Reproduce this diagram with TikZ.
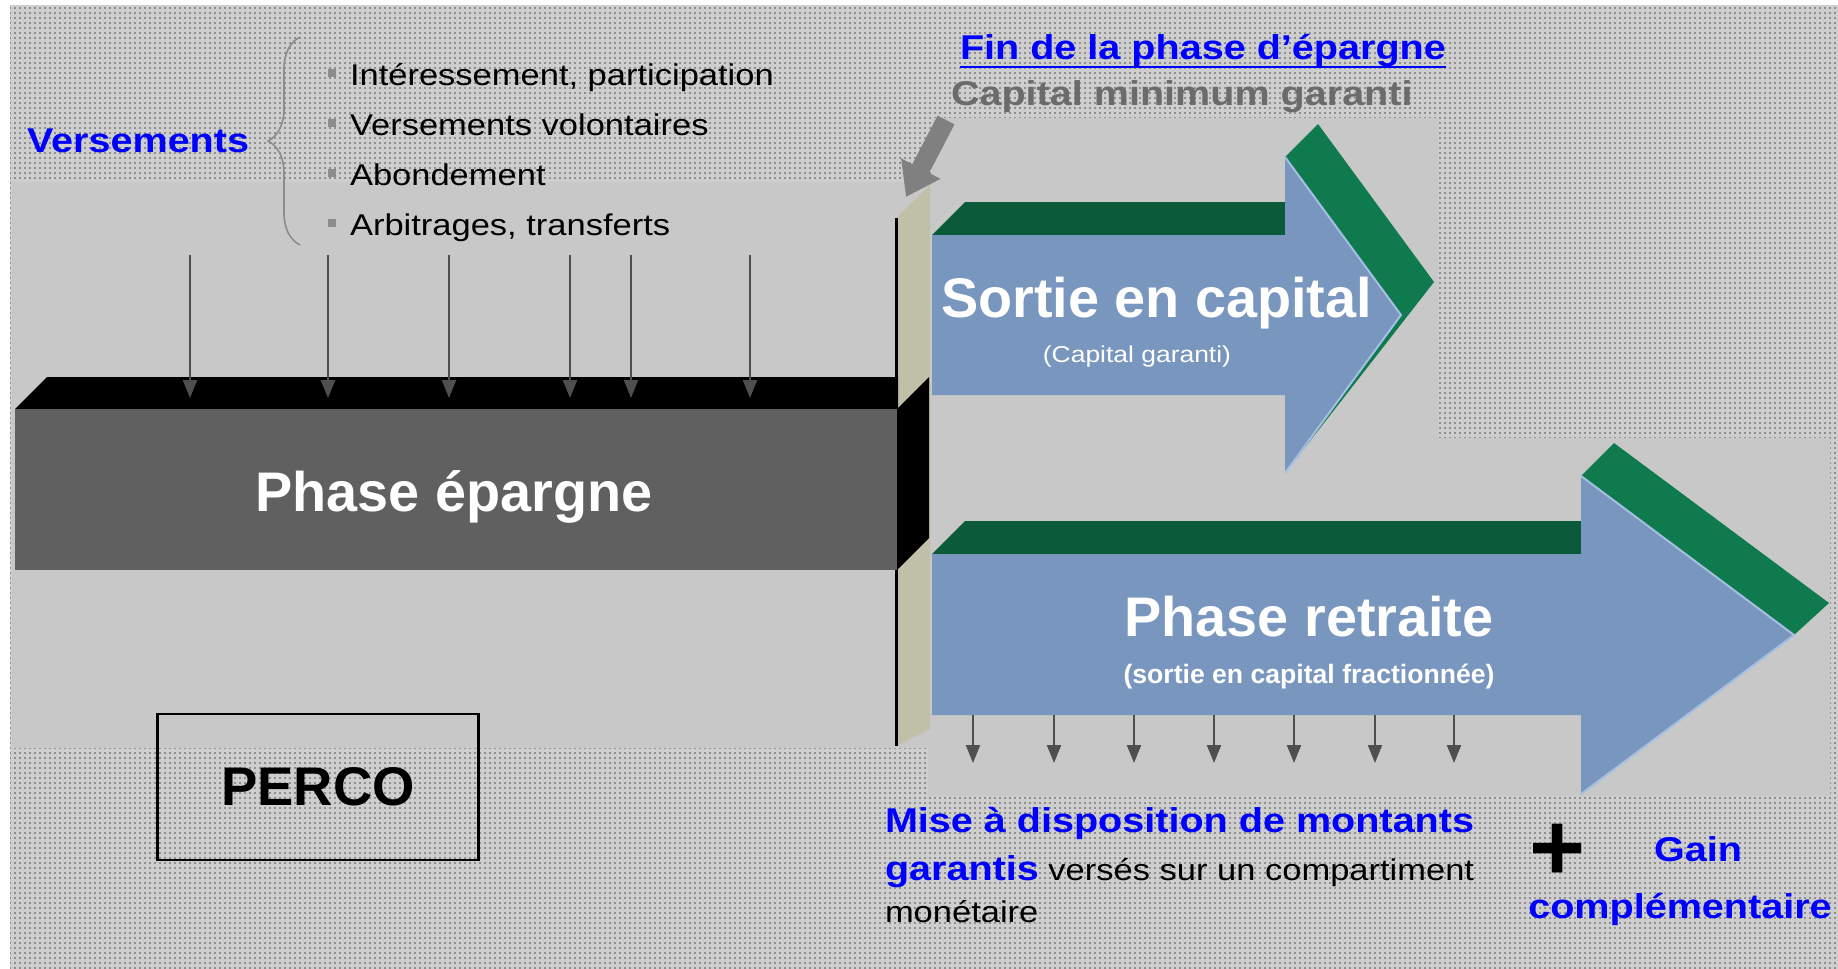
\documentclass[tikz,border=0pt]{standalone}
\usepackage{fontspec}
\setmainfont{Liberation Sans}
\newfontfamily\wide{Liberation Sans}[FakeStretch=1.15]
\usetikzlibrary{arrows.meta,decorations.pathreplacing,patterns}
\pgfdeclarepatternformonly{finedots}{\pgfpointorigin}{\pgfqpoint{2.4pt}{2.4pt}}{\pgfqpoint{2.4pt}{2.4pt}}{%
  \pgfpathrectangle{\pgfpointorigin}{\pgfqpoint{1pt}{1pt}}\pgfusepath{fill}}
\definecolor{texbg}{HTML}{CECECE}
\definecolor{texdot}{HTML}{8E8E8E}
\definecolor{plainbg}{HTML}{C8C8C8}
\definecolor{slab}{HTML}{C0BFA7}
\definecolor{barfront}{HTML}{606060}
\definecolor{arrblue}{HTML}{7896BE}
\definecolor{arrlight}{HTML}{A5BFE3}
\definecolor{topgreen}{HTML}{0B5A3A}
\definecolor{headgreen}{HTML}{0E7A4E}
\definecolor{pblue}{HTML}{0000FF}
\definecolor{capgray}{HTML}{6B6B6B}
\definecolor{arrgray}{HTML}{808080}
\definecolor{tickgray}{HTML}{4F4F4F}
\definecolor{bulletgray}{HTML}{8C8C8C}
\begin{document}
\begin{tikzpicture}[x=0.5pt,y=-0.5pt,
  lbl/.style={inner sep=0pt, outer sep=0pt},
  hd/.style={lbl, font=\wide\bfseries\fontsize{17.2}{20}\selectfont, text=pblue},
  sm/.style={lbl, font=\wide\fontsize{15}{18}\selectfont, text=black},
  big/.style={lbl, font=\bfseries\fontsize{27.9}{32}\selectfont, text=white},
  tick/.style={draw=tickgray, line width=1.1pt, -{Triangle[length=9pt,width=7pt]}},
  bullet/.style={fill=bulletgray},
]
\useasboundingbox (0,0) rectangle (1838,969);
\fill[white] (0,0) rectangle (1838,969);
\fill[texbg] (10,5) rectangle (1838,969);
\fill[pattern=finedots, pattern color=texdot] (10,5) rectangle (1838,969);
\fill[plainbg] (12,182) -- (932,182) -- (932,118) -- (1438,118) -- (1438,438)
  -- (1830,438) -- (1830,796) -- (928,796) -- (928,748) -- (12,748) -- cycle;

% slab
\fill[slab] (896,218) -- (930,185) -- (930,729) -- (896,746) -- cycle;
\draw[black, line width=1.5pt] (896,218) -- (896,746);

% savings bar
\fill[black] (15,409) -- (47,377) -- (898,377) -- (898,409) -- cycle;
\fill[barfront] (15,409) rectangle (897,570);
\fill[black] (897,409) -- (929,377) -- (929,538) -- (897,570) -- cycle;

% Sortie en capital arrow
\fill[topgreen] (932,235) -- (965,202) -- (1285,202) -- (1285,235) -- cycle;
\fill[headgreen] (1285,157) -- (1318,124) -- (1434,282) -- (1285,473) -- cycle;
\fill[arrblue] (932,235) -- (1285,235) -- (1285,157) -- (1401,315) -- (1285,473)
  -- (1285,395) -- (932,395) -- cycle;
\draw[arrlight, line width=1pt] (1285,157) -- (1401,315) -- (1285,473);

% Phase retraite arrow
\fill[topgreen] (932,554) -- (965,521) -- (1581,521) -- (1581,554) -- cycle;
\fill[headgreen] (1581,476) -- (1614,443) -- (1829,603) -- (1794,635) -- cycle;
\fill[arrblue] (932,554) -- (1581,554) -- (1581,476) -- (1794,635) -- (1581,794)
  -- (1581,715) -- (932,715) -- cycle;
\draw[arrlight, line width=1pt] (1581,476) -- (1794,635) -- (1581,794);

% grey pointer arrow
\coordinate (gs) at (946,120);
\coordinate (gt) at (906,197);
\draw[arrgray, line width=9.5pt, -{Triangle[length=16pt,width=21pt]}] (gs) -- (gt);

% incoming payments
\foreach \x [count=\i] in {190,328,449,570,631,750} {
  \coordinate (vs\i) at (\x,255);
  \coordinate (ve\i) at (\x,398);
  \draw[tick] (vs\i) -- (ve\i);
}
% outgoing payments
\foreach \x [count=\i] in {973,1054,1134,1214,1294,1375,1454} {
  \coordinate (rs\i) at (\x,715);
  \coordinate (re\i) at (\x,763);
  \draw[tick] (rs\i) -- (re\i);
}

% brace
\coordinate (brb) at (300,245);
\coordinate (brt) at (300,37);
\draw[bulletgray, line width=0.8pt, decorate, decoration={brace, amplitude=16pt}] (brb) -- (brt);

% texts
\node[hd, anchor=base west] (vers) at (27,152) {Versements};
\node[sm, anchor=base west] (b1) at (350,85) {Intéressement, participation};
\node[sm, anchor=base west] (b2) at (350,135) {Versements volontaires};
\node[sm, anchor=base west] (b3) at (350,185) {Abondement};
\node[sm, anchor=base west] (b4) at (350,235) {Arbitrages, transferts};
\fill[bullet] (328,69) rectangle (336,77);
\fill[bullet] (328,119) rectangle (336,127);
\fill[bullet] (328,169) rectangle (336,177);
\fill[bullet] (328,219) rectangle (336,227);

\node[hd, anchor=base west] (fin) at (960,60) {Fin de la phase d’épargne};
\draw[pblue, line width=1.2pt] (fin.south west) -- (fin.south east);
\node[hd, text=capgray, anchor=base west] (cmg) at (951,105) {Capital minimum garanti};

\node[big, anchor=base west] (sortie) at (941,317) {Sortie en capital};
\node[lbl, font=\wide\fontsize{11.5}{14}\selectfont, text=white, anchor=base] (cg) at (1137,362) {(Capital garanti)};

\node[big, anchor=base] (pe) at (454,511) {Phase épargne};
\node[big, anchor=base] (pr) at (1309,636) {Phase retraite};
\node[lbl, font=\bfseries\fontsize{13.3}{16}\selectfont, text=white, anchor=base] (frac) at (1309,683) {(sortie en capital fractionnée)};

\node[draw=black, line width=1.3pt, minimum width=160.5pt, minimum height=73pt, inner sep=0pt,
  font=\bfseries\fontsize{27.2}{30}\selectfont] (perco) at (318,787) {PERCO};

\node[hd, anchor=base west] (mise1) at (885,832) {Mise à disposition de montants};
\node[sm, anchor=base west] (mise2) at (885,880) {{\bfseries\fontsize{17.2}{20}\selectfont\color{pblue}garantis} versés sur un compartiment};
\node[sm, anchor=base west] (mise3) at (885,922) {monétaire};

\node[lbl, font=\bfseries\fontsize{48}{50}\selectfont] (plus) at (1558,852) {+};
\node[hd, anchor=base] (gain) at (1698,861) {Gain};
\node[hd, anchor=base] (compl) at (1680,918) {complémentaire};
\end{tikzpicture}
\end{document}
